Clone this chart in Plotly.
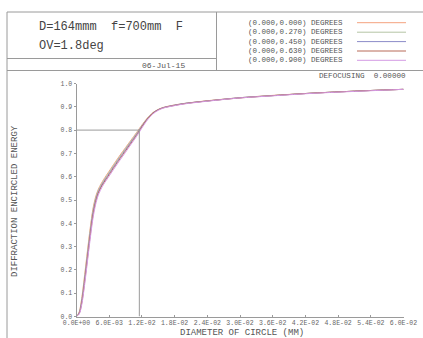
import numpy as np
import plotly.graph_objects as go

W, H = 423, 338

# Circle diameter (mm) and encircled energy per field angle
diameter_mm = [0, 0.0005, 0.001, 0.0015, 0.002, 0.0025, 0.003, 0.0035, 0.004, 0.0045,
               0.005, 0.006, 0.007, 0.008, 0.009, 0.010, 0.011, 0.012, 0.013, 0.014,
               0.015, 0.016, 0.018, 0.020, 0.024, 0.030, 0.036, 0.042, 0.048, 0.054, 0.060]

ee_0000 = [0, 0.020, 0.085, 0.180, 0.280, 0.377, 0.460, 0.513, 0.546, 0.569,
           0.589, 0.624, 0.659, 0.693, 0.725, 0.757, 0.789, 0.822, 0.852, 0.875,
           0.889, 0.898, 0.908, 0.915, 0.926, 0.939, 0.949, 0.957, 0.964, 0.970, 0.975]
ee_0270 = [0, 0.018, 0.078, 0.170, 0.269, 0.366, 0.451, 0.506, 0.541, 0.564,
           0.584, 0.619, 0.654, 0.688, 0.721, 0.753, 0.785, 0.819, 0.850, 0.874,
           0.888, 0.897, 0.907, 0.915, 0.925, 0.939, 0.948, 0.957, 0.964, 0.970, 0.975]
ee_0450 = [0, 0.015, 0.070, 0.160, 0.257, 0.355, 0.440, 0.498, 0.535, 0.559,
           0.579, 0.614, 0.649, 0.683, 0.716, 0.749, 0.781, 0.817, 0.849, 0.873,
           0.888, 0.897, 0.907, 0.915, 0.925, 0.939, 0.948, 0.957, 0.964, 0.970, 0.975]
ee_0630 = [0, 0.013, 0.063, 0.150, 0.246, 0.344, 0.430, 0.490, 0.529, 0.554,
           0.574, 0.609, 0.644, 0.678, 0.711, 0.744, 0.777, 0.814, 0.847, 0.872,
           0.887, 0.896, 0.906, 0.914, 0.925, 0.938, 0.948, 0.957, 0.964, 0.970, 0.975]
ee_0900 = [0, 0.010, 0.055, 0.138, 0.234, 0.331, 0.418, 0.480, 0.521, 0.547,
           0.568, 0.603, 0.638, 0.672, 0.705, 0.739, 0.772, 0.809, 0.843, 0.869,
           0.885, 0.895, 0.905, 0.913, 0.924, 0.938, 0.947, 0.956, 0.963, 0.969, 0.975]

field_labels = ["(0.000,0.000) DEGREES", "(0.000,0.270) DEGREES", "(0.000,0.450) DEGREES",
                "(0.000,0.630) DEGREES", "(0.000,0.900) DEGREES"]
series = [ee_0000, ee_0270, ee_0450, ee_0630, ee_0900]
colors = ["#f4a27e", "#b4c4a4", "#8c8cc8", "#b86a58", "#d49ae4"]

x_tickvals = [0, 0.006, 0.012, 0.018, 0.024, 0.030, 0.036, 0.042, 0.048, 0.054, 0.060]
x_ticktext = ["0.0E+00", "6.0E-03", "1.2E-02", "1.8E-02", "2.4E-02", "3.0E-02",
              "3.6E-02", "4.2E-02", "4.8E-02", "5.4E-02", "6.0E-02"]
y_tickvals = [round(0.1 * i, 1) for i in range(11)]
y_ticktext = [f"{v:.1f}" for v in y_tickvals]

MONO = "Courier New, Liberation Mono, monospace"
FRAME = "#9a9a9a"


def px(x):
    return x / W


def py(y):
    return 1 - y / H


fig = go.Figure()
for vals, name, col in zip(series, field_labels, colors):
    fig.add_trace(go.Scatter(x=diameter_mm, y=vals, mode="lines", name=name,
                             line=dict(color=col, width=1, shape="spline", smoothing=0.8),
                             showlegend=False, hoverinfo="skip"))

# 80% encircled energy marker, from the middle field
d80 = float(np.interp(0.8, ee_0450, diameter_mm))

shapes = [
    dict(type="line", xref="x", yref="y", x0=0, x1=d80, y0=0.8, y1=0.8,
         line=dict(color=FRAME, width=1)),
    dict(type="line", xref="x", yref="y", x0=d80, x1=d80, y0=0, y1=0.8,
         line=dict(color=FRAME, width=1)),
    # page frame and header boxes
    dict(type="line", xref="paper", yref="paper", x0=px(7), x1=px(7), y0=py(12), y1=py(340),
         line=dict(color=FRAME, width=1)),
    dict(type="line", xref="paper", yref="paper", x0=px(7), x1=px(425), y0=py(12), y1=py(12),
         line=dict(color=FRAME, width=1)),
    dict(type="line", xref="paper", yref="paper", x0=px(7), x1=px(425), y0=py(70.5), y1=py(70.5),
         line=dict(color=FRAME, width=1)),
    dict(type="line", xref="paper", yref="paper", x0=px(7), x1=px(216.5), y0=py(58.5), y1=py(58.5),
         line=dict(color=FRAME, width=1)),
    dict(type="line", xref="paper", yref="paper", x0=px(216.5), x1=px(216.5), y0=py(12), y1=py(70.5),
         line=dict(color=FRAME, width=1)),
]

annotations = [
    dict(text="D=164mmm\u00a0\u00a0f=700mm\u00a0\u00a0F", x=px(37), y=py(27), xanchor="left",
         yanchor="middle", font=dict(family=MONO, size=12, color="#444444")),
    dict(text="OV=1.8deg", x=px(37), y=py(46), xanchor="left", yanchor="middle",
         font=dict(family=MONO, size=12, color="#444444")),
    dict(text="06-Jul-15", x=px(187), y=py(65), xanchor="right", yanchor="middle",
         font=dict(family=MONO, size=8, color="#555555")),
    dict(text="DEFOCUSING\u00a0\u00a00.00000", x=px(408), y=py(76), xanchor="right",
         yanchor="middle", font=dict(family=MONO, size=7.6, color="#555555")),
    dict(text="DIAMETER OF CIRCLE (MM)", x=px(242), y=py(332.5), xanchor="center",
         yanchor="middle", font=dict(family=MONO, size=9, color="#555555")),
    dict(text="DIFFRACTION ENCIRCLED ENERGY", x=px(15), y=py(201), xanchor="center",
         yanchor="middle", textangle=-90, font=dict(family=MONO, size=9, color="#555555")),
]

# Legend block: field label followed by a line sample in the series colour
legend_y = [22.7, 32.2, 41.6, 51.0, 60.3]
for ly, name, col in zip(legend_y, field_labels, colors):
    annotations.append(dict(text=name, x=px(345), y=py(ly), xanchor="right", yanchor="middle",
                            font=dict(family=MONO, size=7.5, color="#555555")))
    shapes.append(dict(type="line", xref="paper", yref="paper", x0=px(357), x1=px(406),
                       y0=py(ly), y1=py(ly), line=dict(color=col, width=1)))

for a in annotations:
    a.update(xref="paper", yref="paper", showarrow=False)

fig.update_layout(
    template="none",
    width=W, height=H,
    margin=dict(l=0, r=0, t=0, b=0, pad=0),
    paper_bgcolor="white", plot_bgcolor="white",
    shapes=shapes, annotations=annotations,
    xaxis=dict(domain=[px(76.5), px(403.5)], range=[0, 0.06], tickvals=x_tickvals,
               ticktext=x_ticktext, showgrid=False, zeroline=False, showline=True,
               linecolor=FRAME, linewidth=1, ticks="inside", ticklen=2, tickcolor=FRAME,
               tickfont=dict(family=MONO, size=6.5, color="#666666"), fixedrange=True,
               automargin=False),
    yaxis=dict(domain=[py(316.5), py(83.5)], range=[0, 1], tickvals=y_tickvals,
               ticktext=y_ticktext, showgrid=False, zeroline=False, showline=True,
               linecolor=FRAME, linewidth=1, ticks="outside", ticklen=2, tickcolor=FRAME,
               tickfont=dict(family=MONO, size=6.5, color="#666666"), fixedrange=True,
               automargin=False),
)

fig.write_html("out.html")
